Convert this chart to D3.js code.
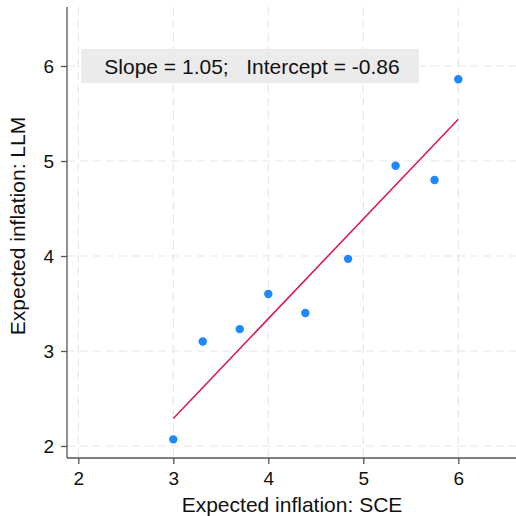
<!DOCTYPE html>
<html><head><meta charset="utf-8">
<script src="https://cdn.jsdelivr.net/npm/d3@7"></script>
<style>body{margin:0;background:#fff}</style>
</head><body>
<script>
const sce = [3.0, 3.31, 3.70, 4.0, 4.39, 4.84, 5.34, 5.75, 6.0];
const llm = [2.07, 3.10, 3.23, 3.60, 3.40, 3.97, 4.95, 4.80, 5.86];
const slope = 1.05, intercept = -0.86;
const xTicks = [2, 3, 4, 5, 6];
const yTicks = [2, 3, 4, 5, 6];
const annotation = "Slope = 1.05;   Intercept = -0.86";

const W = 516, H = 516;
const pL = 67, pR = 516, pT = 7, pB = 458;
const svg = d3.select("body").append("svg").attr("width", W).attr("height", H);
const font = "'Liberation Sans', Arial, Helvetica, sans-serif";

const x = d3.scaleLinear().domain([2 - 11.3/95, 2 + (pR - 78.3)/95]).range([pL, pR]);
const y = d3.scaleLinear().domain([2 - 12/95, 2 + (446 - pT)/95]).range([pB, pT]);

// grid
const g = svg.append("g");
g.selectAll("line.vg").data(xTicks).join("line")
  .attr("x1", d => x(d)).attr("x2", d => x(d)).attr("y1", pT).attr("y2", pB)
  .attr("stroke", "#e6e6e6").attr("stroke-width", 1.2).attr("stroke-dasharray", "8,5");
g.selectAll("line.hg").data(yTicks).join("line")
  .attr("y1", d => y(d)).attr("y2", d => y(d)).attr("x1", pL).attr("x2", pR)
  .attr("stroke", "#e6e6e6").attr("stroke-width", 1.2).attr("stroke-dasharray", "8,5");

// annotation
const ax = x(2.03), ax2 = x(5.585);
svg.append("rect").attr("x", ax).attr("y", y(6.18)).attr("width", ax2 - ax)
  .attr("height", y(5.82) - y(6.18)).attr("fill", "#ebebeb");
svg.append("text").attr("x", (ax + ax2)/2 + 2).attr("y", y(6) + 8)
  .attr("text-anchor", "middle").attr("font-family", font).attr("font-size", 21)
  .attr("fill", "#111").style("white-space", "pre").text(annotation);

// axes
const xAxis = svg.append("g").attr("transform", `translate(0,${pB})`)
  .call(d3.axisBottom(x).tickValues(xTicks).tickSize(6).tickPadding(8).tickFormat(d3.format("d")));
const yAxis = svg.append("g").attr("transform", `translate(${pL},0)`)
  .call(d3.axisLeft(y).tickValues(yTicks).tickSize(6).tickPadding(7).tickFormat(d3.format("d")));
[xAxis, yAxis].forEach(a => {
  a.select(".domain").attr("stroke", "#555").attr("stroke-width", 1.3);
  a.selectAll(".tick line").attr("stroke", "#555").attr("stroke-width", 1.3);
  a.selectAll(".tick text").attr("font-family", font).attr("font-size", 19).attr("fill", "#111");
});
xAxis.select(".domain").attr("d", `M${pL},0H${pR}`);
yAxis.select(".domain").attr("d", `M0,${pT}V${pB}`);

// fit line
svg.append("line").attr("x1", x(3)).attr("y1", y(slope*3 + intercept))
  .attr("x2", x(6)).attr("y2", y(slope*6 + intercept))
  .attr("stroke", "#d81b60").attr("stroke-width", 1.6);

// points
svg.selectAll("circle").data(sce.map((v, i) => [v, llm[i]])).join("circle")
  .attr("cx", d => x(d[0])).attr("cy", d => y(d[1])).attr("r", 4.2).attr("fill", "#1e88ff");

// labels
svg.append("text").attr("x", 292).attr("y", 512).attr("text-anchor", "middle")
  .attr("font-family", font).attr("font-size", 21).attr("fill", "#111").text("Expected inflation: SCE");
svg.append("text").attr("transform", `translate(25,226) rotate(-90)`)
  .attr("text-anchor", "middle").attr("font-family", font).attr("font-size", 21)
  .attr("fill", "#111").text("Expected inflation: LLM");
</script>
</body></html>
